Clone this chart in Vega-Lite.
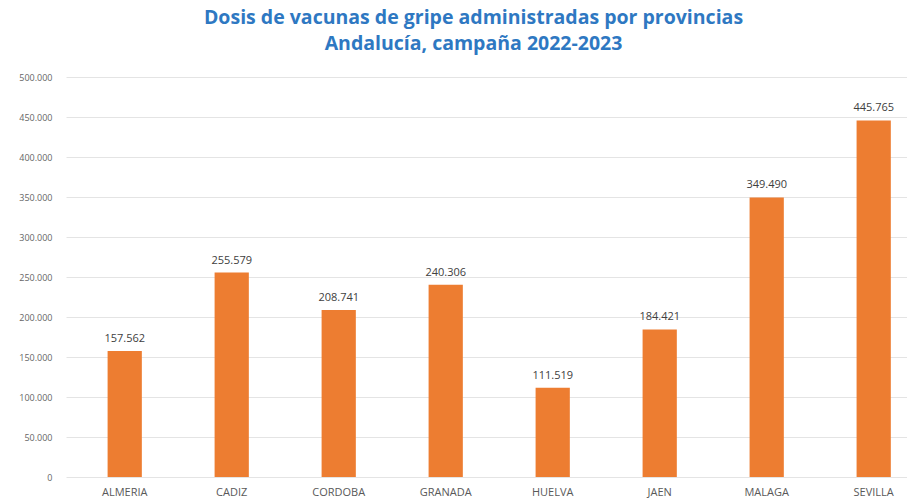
{
  "$schema": "https://vega.github.io/schema/vega-lite/v6.json",
  "autosize": "none",
  "width": 841,
  "height": 400,
  "padding": {"left": 66, "top": 77, "right": 0, "bottom": 24},
  "background": "white",
  "config": {
    "locale": {"number": {"decimal": ",", "thousands": ".", "grouping": [3], "currency": ["€", ""]}},
    "view": {"stroke": null},
    "font": "Open Sans"
  },
  "title": {
    "text": ["Dosis de vacunas de gripe administradas por provincias", "Andalucía, campaña 2022-2023"],
    "font": "Open Sans",
    "fontSize": 19.5,
    "fontWeight": "bold",
    "color": "#2E78C2",
    "lineHeight": 26,
    "anchor": "middle",
    "dx": -13,
    "offset": 19
  },
  "data": {
    "values": [
      {"provincia": "ALMERIA", "dosis": 157562},
      {"provincia": "CADIZ", "dosis": 255579},
      {"provincia": "CORDOBA", "dosis": 208741},
      {"provincia": "GRANADA", "dosis": 240306},
      {"provincia": "HUELVA", "dosis": 111519},
      {"provincia": "JAEN", "dosis": 184421},
      {"provincia": "MALAGA", "dosis": 349490},
      {"provincia": "SEVILLA", "dosis": 445765}
    ]
  },
  "encoding": {
    "x": {
      "field": "provincia", "type": "nominal", "sort": null,
      "scale": {"paddingInner": 0.68, "paddingOuter": 0.27, "align": 0.72},
      "axis": {"title": null, "labelAngle": 0, "ticks": false, "domain": false, "labelFontSize": 11, "labelColor": "#595959", "labelPadding": 9, "labelFont": "Open Sans"}
    },
    "y": {
      "field": "dosis", "type": "quantitative",
      "scale": {"domain": [0, 500000]},
      "axis": {"title": null, "values": [0,50000,100000,150000,200000,250000,300000,350000,400000,450000,500000], "format": ",d", "ticks": false, "domain": false, "labelFontSize": 9, "labelColor": "#666666", "labelPadding": 14, "gridColor": "#e4e4e4", "gridWidth": 1}
    }
  },
  "layer": [
    {"mark": {"type": "bar", "color": "#ED7D31"}},
    {
      "mark": {"type": "text", "dy": -12, "fontSize": 11, "color": "#404040", "font": "Open Sans"},
      "encoding": {"text": {"field": "dosis", "type": "quantitative", "format": ",d"}}
    }
  ]
}
